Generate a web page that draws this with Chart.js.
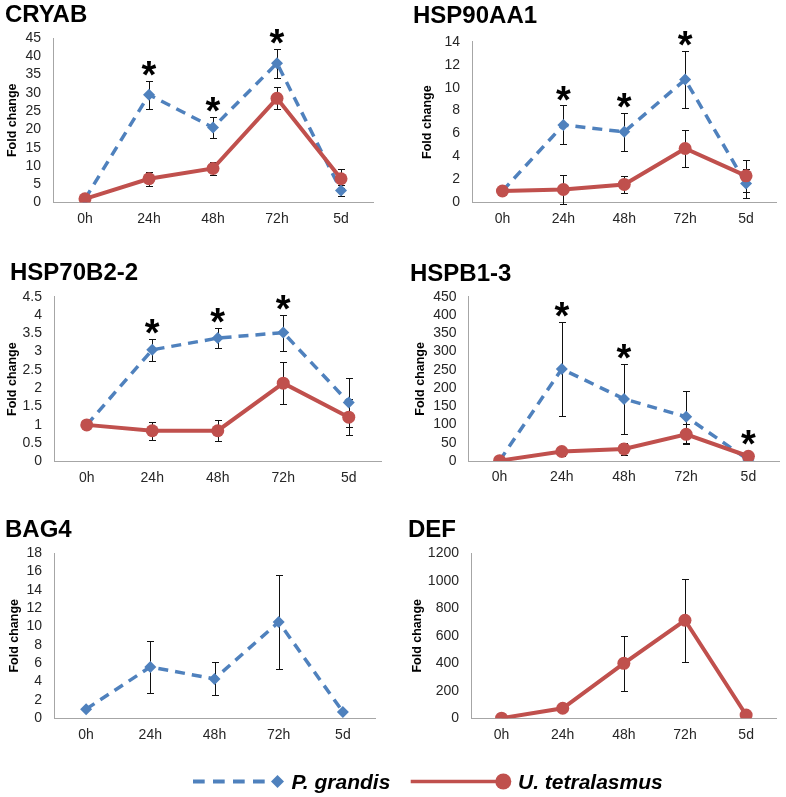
<!DOCTYPE html>
<html><head><meta charset="utf-8">
<script src="https://cdn.jsdelivr.net/npm/chart.js@4.4.0/dist/chart.umd.min.js"></script>
<style>
html,body{margin:0;padding:0;background:#fff;}
#page{position:relative;width:786px;height:797px;overflow:hidden;background:#fff;}
.panel{position:absolute;width:393px;height:250px;}
#overlay{position:absolute;left:0;top:0;pointer-events:none;}
</style></head><body><div id="page">
<div class="panel" style="left:0px;top:0px"><canvas id="c0"></canvas></div>
<div class="panel" style="left:393px;top:0px"><canvas id="c1"></canvas></div>
<div class="panel" style="left:0px;top:250px"><canvas id="c2"></canvas></div>
<div class="panel" style="left:393px;top:250px"><canvas id="c3"></canvas></div>
<div class="panel" style="left:0px;top:500px"><canvas id="c4"></canvas></div>
<div class="panel" style="left:393px;top:500px"><canvas id="c5"></canvas></div>
<svg id="overlay" width="786" height="797" xmlns="http://www.w3.org/2000/svg"></svg>
</div>
<script>
// ---------------- DATA ----------------
const categories = ['0h', '24h', '48h', '72h', '5d'];
const seriesNames = ['P. grandis', 'U. tetralasmus'];
const geneNames = ['CRYAB', 'HSP90AA1', 'HSP70B2-2', 'HSPB1-3', 'BAG4', 'DEF'];
const yAxisTitle = 'Fold change';

const cryabGrandis = [1, 29.5, 20.5, 38.1, 3.3];
const cryabGrandisErr = [0, 3.8, 2.9, 4.0, 1.6];
const cryabTetra = [1, 6.5, 9.3, 28.5, 6.5];
const cryabTetraErr = [0, 1.9, 1.8, 3.0, 2.6];
const cryabGrandisStars = [1, 2, 3];
const cryabTetraStars = [];

const hsp90Grandis = [1, 6.75, 6.15, 10.7, 1.65];
const hsp90GrandisErr = [0, 1.7, 1.65, 2.5, 1.25];
const hsp90Tetra = [1, 1.13, 1.57, 4.7, 2.32];
const hsp90TetraErr = [0, 1.27, 0.75, 1.65, 1.37];
const hsp90GrandisStars = [1, 2, 3];
const hsp90TetraStars = [];

const hsp70Grandis = [1, 3.05, 3.37, 3.52, 1.61];
const hsp70GrandisErr = [0, 0.3, 0.28, 0.49, 0.66];
const hsp70Tetra = [1, 0.84, 0.84, 2.14, 1.21];
const hsp70TetraErr = [0, 0.25, 0.29, 0.58, 0.5];
const hsp70GrandisStars = [1, 2, 3];
const hsp70TetraStars = [];

const hspb1Grandis = [1, 252, 170, 121, 3];
const hspb1GrandisErr = [0, 130, 97, 71, 0];
const hspb1Tetra = [1, 26, 33, 73, 13];
const hspb1TetraErr = [0, 12, 17, 27, 4];
const hspb1GrandisStars = [1, 2];
const hspb1TetraStars = [4];

const bag4Grandis = [1, 5.6, 4.3, 10.5, 0.7];
const bag4GrandisErr = [0, 2.85, 1.8, 5.15, 0];

const defTetra = [1, 73, 400, 713, 24];
const defTetraErr = [0, 18, 202, 303, 0];

const yMaxes = [45, 14, 4.5, 450, 18, 1200];
const ySteps = [5, 2, 0.5, 50, 2, 200];

// ---------------- STYLE / LAYOUT ----------------
const FONT = "'Liberation Sans', Arial, sans-serif";
const BLUE = '#4F81BD';
const RED = '#C0504D';
const AXIS = '#a6a6a6';
const TICKC = '#262626';

// per panel: y-axis box width, padding top/right/bottom, y-title centre x
const layouts = [
  {w: 53, top: 38, right: 20, bottom: 22.5, tx: 13},
  {w: 79, top: 41.7, right: 9.5, bottom: 22.5, tx: 35},
  {w: 54, top: 46.7, right: 11.5, bottom: 13.5, tx: 12.5},
  {w: 75.5, top: 46.7, right: 4.5, bottom: 14, tx: 28},
  {w: 54, top: 53.3, right: 18, bottom: 6.7, tx: 15},
  {w: 78, top: 53.3, right: 9.3, bottom: 6.7, tx: 25}
];
const titlePos = [[5, 22], [413, 23], [10, 280], [410, 281], [5, 537], [408, 537]];

function grandisSet(data, errs, stars) {
  return {label: seriesNames[0], data, errors: errs, stars, order: 1,
    borderColor: BLUE, backgroundColor: BLUE, borderWidth: 3.5, borderDash: [10, 7],
    pointStyle: 'rectRot', pointRadius: 6, pointBackgroundColor: BLUE, pointBorderWidth: 0,
    tension: 0, fill: false};
}
function tetraSet(data, errs, stars) {
  return {label: seriesNames[1], data, errors: errs, stars, order: 0,
    borderColor: RED, backgroundColor: RED, borderWidth: 4,
    pointStyle: 'circle', pointRadius: 6.5, pointBackgroundColor: RED, pointBorderWidth: 0,
    tension: 0, fill: false};
}

const panels = [
  [grandisSet(cryabGrandis, cryabGrandisErr, cryabGrandisStars), tetraSet(cryabTetra, cryabTetraErr, cryabTetraStars)],
  [grandisSet(hsp90Grandis, hsp90GrandisErr, hsp90GrandisStars), tetraSet(hsp90Tetra, hsp90TetraErr, hsp90TetraStars)],
  [grandisSet(hsp70Grandis, hsp70GrandisErr, hsp70GrandisStars), tetraSet(hsp70Tetra, hsp70TetraErr, hsp70TetraStars)],
  [grandisSet(hspb1Grandis, hspb1GrandisErr, hspb1GrandisStars), tetraSet(hspb1Tetra, hspb1TetraErr, hspb1TetraStars)],
  [grandisSet(bag4Grandis, bag4GrandisErr, [])],
  [tetraSet(defTetra, defTetraErr, [])]
];

const errorBarPlugin = {
  id: 'errbars',
  beforeDatasetsDraw(chart) {
    const ctx = chart.ctx, ys = chart.scales.y;
    ctx.save();
    ctx.strokeStyle = '#111';
    ctx.lineWidth = 1;
    chart.data.datasets.forEach((ds, di) => {
      if (!ds.errors) return;
      const meta = chart.getDatasetMeta(di);
      meta.data.forEach((pt, i) => {
        const e = ds.errors[i];
        if (!e) return;
        const v = ds.data[i];
        const X = Math.round(pt.x) + 0.5;
        const yt = Math.round(ys.getPixelForValue(v + e)) + 0.5;
        const yb = Math.round(ys.getPixelForValue(v - e)) + 0.5;
        ctx.beginPath();
        ctx.moveTo(X, yt); ctx.lineTo(X, yb);
        ctx.moveTo(X - 3.5, yt); ctx.lineTo(X + 3.5, yt);
        ctx.moveTo(X - 3.5, yb); ctx.lineTo(X + 3.5, yb);
        ctx.stroke();
      });
    });
    ctx.restore();
  },
  afterDatasetsDraw(chart) {
    const ctx = chart.ctx, ys = chart.scales.y;
    ctx.save();
    ctx.fillStyle = '#000';
    ctx.font = 'bold 38px ' + FONT;
    ctx.textAlign = 'center';
    ctx.textBaseline = 'alphabetic';
    const m = ctx.measureText('*');
    const half = (m.actualBoundingBoxAscent - m.actualBoundingBoxDescent) / 2;
    chart.data.datasets.forEach((ds, di) => {
      if (!ds.stars) return;
      const meta = chart.getDatasetMeta(di);
      ds.stars.forEach(i => {
        const pt = meta.data[i];
        const v = ds.data[i] + (ds.errors ? ds.errors[i] : 0);
        const yTop = Math.min(ys.getPixelForValue(v), pt.y - 7);
        const cy = yTop - 12;
        ctx.fillText('*', pt.x, cy + half);
      });
    });
    ctx.restore();
  }
};

panels.forEach((datasets, p) => {
  const L = layouts[p];
  new Chart(document.getElementById('c' + p), {
    type: 'line',
    data: {labels: categories, datasets},
    options: {
      responsive: true, maintainAspectRatio: false, animation: false, devicePixelRatio: 1,
      layout: {padding: {left: 0, top: L.top, right: L.right, bottom: L.bottom}},
      plugins: {legend: {display: false}, tooltip: {enabled: false}, title: {display: false}},
      scales: {
        x: {
          type: 'category', offset: true,
          grid: {display: false, drawTicks: false},
          border: {display: true, color: AXIS, width: 1},
          ticks: {color: TICKC, font: {family: FONT, size: 14}, padding: 8, autoSkip: false, maxRotation: 0},
          afterFit: s => { s.height = 25; }
        },
        y: {
          min: 0, max: yMaxes[p],
          grid: {display: false, drawTicks: false},
          border: {display: true, color: AXIS, width: 1},
          ticks: {stepSize: ySteps[p], color: TICKC, font: {family: FONT, size: 14}, padding: 12,
            autoSkip: false, callback: v => String(v)},
          title: {display: true, text: yAxisTitle, color: '#000',
            font: {family: FONT, size: 12.5, weight: 'bold'}, padding: {top: L.tx - 7.5, bottom: 0}},
          afterFit: s => { s.width = L.w; }
        }
      }
    },
    plugins: [errorBarPlugin]
  });
});

// ---------------- TITLES & LEGEND (SVG text) ----------------
const NS = 'http://www.w3.org/2000/svg';
const svg = document.getElementById('overlay');
function el(tag, attrs, text) {
  const e = document.createElementNS(NS, tag);
  for (const k in attrs) e.setAttribute(k, attrs[k]);
  if (text !== undefined) e.textContent = text;
  svg.appendChild(e);
  return e;
}
geneNames.forEach((g, i) => {
  el('text', {x: titlePos[i][0], y: titlePos[i][1], 'font-family': FONT, 'font-weight': 'bold',
    'font-size': 24, fill: '#000'}, g);
});
const LY = 781.5;
el('line', {x1: 193, y1: LY, x2: 272, y2: LY, stroke: BLUE, 'stroke-width': 4, 'stroke-dasharray': '11.7 8.3'});
el('polygon', {points: `277.5,${LY-6.5} 284,${LY} 277.5,${LY+6.5} 271,${LY}`, fill: BLUE});
el('text', {x: 291.5, y: 788.5, 'font-family': FONT, 'font-weight': 'bold', 'font-style': 'italic',
  'font-size': 21, fill: '#000'}, seriesNames[0]);
el('line', {x1: 410.7, y1: LY, x2: 500, y2: LY, stroke: RED, 'stroke-width': 3.3});
el('circle', {cx: 503.3, cy: LY, r: 8, fill: RED});
el('text', {x: 518, y: 788.5, 'font-family': FONT, 'font-weight': 'bold', 'font-style': 'italic',
  'font-size': 21, fill: '#000'}, seriesNames[1]);
</script>
</body></html>
